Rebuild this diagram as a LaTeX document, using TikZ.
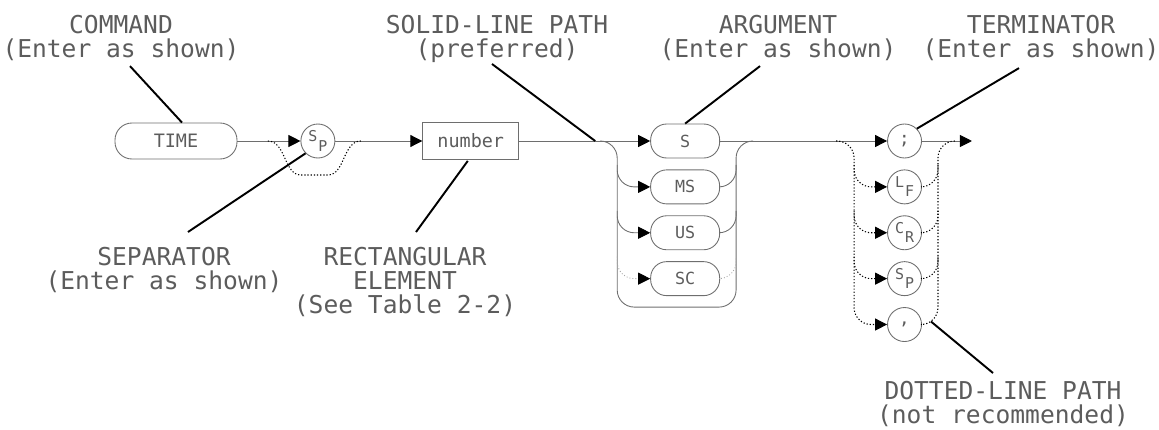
\documentclass[tikz,border=0pt]{standalone}
\usepackage{fontspec}
\usetikzlibrary{positioning, calc, arrows.meta}
\newfontfamily\plotfont{DejaVu Sans Mono}
\definecolor{lcolor}{HTML}{6E6E6E}
\definecolor{tcolor}{HTML}{5C5C5C}
\newcommand{\updn}[2]{\raisebox{2.6pt}{#1}\kern0.6pt\raisebox{-2.6pt}{#2}}

\begin{document}
\begin{tikzpicture}[
    x=0.2mm, y=-0.2mm,
    pill/.style={rectangle, draw=lcolor, rounded corners=3.2mm, minimum height=6.8mm, minimum width=13.8mm, inner sep=0pt, text=tcolor, font=\plotfont\fontsize{9.5}{11}\selectfont, line width=0.5pt},
    rbox/.style={rectangle, draw=lcolor, minimum height=7.4mm, minimum width=19.2mm, inner sep=0pt, text=tcolor, font=\plotfont\fontsize{10.5}{12}\selectfont, line width=0.5pt},
    circ/.style={circle, draw=lcolor, minimum size=6.8mm, inner sep=0pt, text=tcolor, font=\plotfont\fontsize{8.5}{10}\selectfont, line width=0.5pt},
    conn/.style={draw=lcolor, line width=0.5pt},
    arr/.style={-{Triangle[length=2.4mm, width=2.4mm, color=black]}},
    dots/.style={draw=black, line width=0.6pt, dash pattern=on 0.7pt off 1.1pt},
    faint/.style={draw=black!35, line width=0.5pt, dash pattern=on 0.5pt off 1.2pt},
    lead/.style={draw=black, line width=1.1pt},
    lbl/.style={align=center, inner sep=0pt, anchor=north, text=tcolor, font=\plotfont\fontsize{14}{13.6}\selectfont},
  ]
  \useasboundingbox (0,0) rectangle (1159,429);

  % syntax line
  \node[pill, minimum width=24.4mm, minimum height=7.2mm, rounded corners=3.4mm, font=\plotfont\fontsize{10.5}{12}\selectfont] (time) at (176,141) {TIME};
  \node[circ, right=12.6mm of time] (sp) {\updn{S}{P}};
  \node[rbox, right=17.4mm of sp] (num) {number};
  \node[pill, right=26.2mm of num] (S) {S};
  \node[pill, below=2.2mm of S] (MS) {MS};
  \node[pill, below=2.2mm of MS] (US) {US};
  \node[pill, below=2.2mm of US] (SC) {SC};
  \node[circ, right=33.4mm of S, font=\plotfont\fontsize{10}{12}\selectfont] (semi) {;};
  \node[circ, below=2.2mm of semi] (lf) {\updn{L}{F}};
  \node[circ, below=2.2mm of lf] (cr) {\updn{C}{R}};
  \node[circ, below=2.2mm of cr] (sp2) {\updn{S}{P}};
  \node[circ, below=2.2mm of sp2, font=\plotfont\fontsize{10}{12}\selectfont] (comma) {,};

  \draw[conn, arr] (time) -- (sp);
  \draw[conn, arr] (sp) -- (num);
  \draw[conn, arr] (num) -- (S);
  \draw[conn, arr] (S) -- (semi);
  \coordinate (exit) at ($(semi.east)+(50,0)$);
  \draw[conn, arr] (semi) -- (exit);

  % separator may be left out
  \draw[dots] ($(sp)+(-50,0)$) .. controls ($(sp)+(-32,0)$) and ($(sp)+(-34,34)$) .. ($(sp)+(-17,34)$) -- ($(sp)+(10,34)$) .. controls ($(sp)+(27,34)$) and ($(sp)+(25,0)$) .. ($(sp)+(43,0)$);

  % argument choices
  \coordinate (split) at ($(S.west)+(-55,0)$);
  \coordinate (al) at ($(S.west)+(-33,0)$);
  \coordinate (ar) at ($(S.east)+(16,0)$);
  \coordinate (ab) at ($(SC.south)+(0,11)$);
  \draw[conn, rounded corners=3.4mm] ($(al)+(-17,0)$) -- (al) -- (al |- ab) -- (ar |- ab) -- (ar) -- ($(ar)+(17,0)$);
  \foreach \o in {MS, US} {
    \draw[conn, arr, rounded corners=3.4mm] ($(al |- \o)+(0,-22)$) -- (al |- \o) -- (\o);
    \draw[conn, rounded corners=3.4mm] (\o) -- (ar |- \o) -- ($(ar |- \o)+(0,-22)$);
  }
  \draw[faint, arr, rounded corners=3.4mm] ($(al |- SC)+(0,-22)$) -- (al |- SC) -- (SC);
  \draw[faint, rounded corners=3.4mm] (SC) -- (ar |- SC) -- ($(ar |- SC)+(0,-22)$);

  % terminators
  \coordinate (tl) at ($(semi.west)+(-33,0)$);
  \coordinate (tr) at ($(semi.east)+(16,0)$);
  \draw[dots, arr, rounded corners=3.4mm] ($(tl)+(-18,0)$) -- (tl) -- (tl |- comma) -- (comma);
  \draw[dots, rounded corners=3.4mm] (comma) -- (tr |- comma) -- (tr) -- ($(tr)+(17,0)$);
  \foreach \t in {lf, cr, sp2} {
    \draw[dots, arr, rounded corners=3.4mm] ($(tl |- \t)+(0,-22)$) -- (tl |- \t) -- (\t);
    \draw[dots, rounded corners=3.4mm] (\t) -- (tr |- \t) -- ($(tr |- \t)+(0,-22)$);
  }

  % callouts
  \node[lbl] (cmd) at (121,15) {COMMAND\\(Enter as shown)};
  \node[lbl] (solid) at (497,15) {SOLID-LINE PATH\\(preferred)};
  \node[lbl] (arg) at (778,15) {ARGUMENT\\(Enter as shown)};
  \node[lbl] (term) at (1041,15) {TERMINATOR\\(Enter as shown)};
  \node[lbl] (sep) at (164,247) {SEPARATOR\\(Enter as shown)};
  \node[lbl] (rect) at (405,247) {RECTANGULAR\\ELEMENT\\(See Table 2-2)};
  \node[lbl] (dotlbl) at (1003,381) {DOTTED-LINE PATH\\(not recommended)};

  \draw[lead] ($(cmd.south)+(9,5)$) -- ($(time.north)+(6,0)$);
  \draw[lead] ($(solid.south)+(-5,1)$) -- (split);
  \draw[lead] ($(arg.south)+(-18,5)$) -- (S.north);
  \draw[lead] ($(term.south)+(-22,7)$) -- (semi.north east);
  \draw[lead] (sp.south west) -- ($(sep.north)+(24,-15)$);
  \draw[lead] ($(num.south)+(-3,1)$) -- ($(rect.north)+(11,-15)$);
  \draw[lead] ($(comma.east)+(9,-3)$) -- ($(dotlbl.north)+(-10,-8)$);
\end{tikzpicture}
\end{document}
